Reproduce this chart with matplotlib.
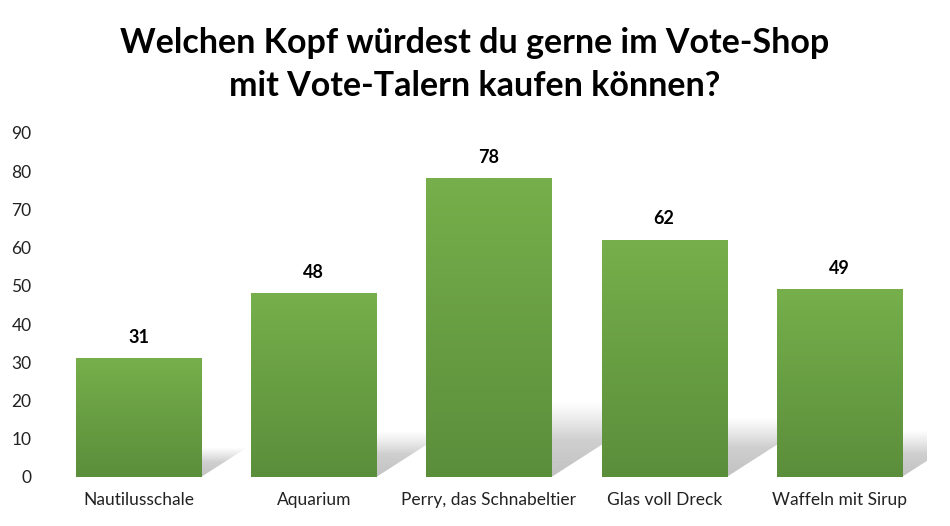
import numpy as np
import matplotlib
matplotlib.use("Agg")
import matplotlib.pyplot as plt
from matplotlib.patches import Polygon
from matplotlib.colors import LinearSegmentedColormap

plt.rcParams['font.family'] = ['Lato', 'DejaVu Sans']

categories = ["Nautilusschale", "Aquarium", "Perry, das Schnabeltier", "Glas voll Dreck", "Waffeln mit Sirup"]
values = [31, 48, 78, 62, 49]
yticks = [0, 10, 20, 30, 40, 50, 60, 70, 80, 90]
title = "Welchen Kopf würdest du gerne im Vote-Shop\nmit Vote-Talern kaufen können?"

fig = plt.figure(figsize=(9.5, 5.26), dpi=100)
ax = fig.add_axes([0.0537, 0.0932, 0.922, 0.654])

x = np.arange(len(categories))
width = 0.714
ax.set_xlim(-0.5, len(categories) - 0.5)
ax.set_ylim(0, 90)

# green vertical gradient (light at top, darker at bottom)
green = LinearSegmentedColormap.from_list("g", ["#5b8e3b", "#76af4b"])
grad = np.linspace(0, 1, 256).reshape(-1, 1)

# soft shadows behind bars, sheared to the right
shade = LinearSegmentedColormap.from_list(
    "s", [(0.76, 0.76, 0.76, 1.0), (0.78, 0.78, 0.78, 0.85), (0.82, 0.82, 0.82, 0.0)])
for xi, v in zip(x, values):
    sh = 0.25 * v
    dx = 0.0085 * v
    x0, x1 = xi - width / 2, xi + width / 2
    poly = Polygon([(x0, 0), (x1, 0), (x1 + dx, sh), (x0 + dx, sh)], closed=True,
                   facecolor="none", edgecolor="none", transform=ax.transData)
    ax.add_patch(poly)
    im = ax.imshow(grad, cmap=shade, aspect="auto", origin="lower",
                   extent=[x0, x1 + dx + 0.05, 0, sh], zorder=1, interpolation="bilinear")
    im.set_clip_path(poly)

for xi, v in zip(x, values):
    ax.imshow(grad, cmap=green, aspect="auto", origin="lower",
              extent=[xi - width / 2, xi + width / 2, 0, v], zorder=2, interpolation="bilinear")
    ax.text(xi, v + 3.3, str(v), ha="center", va="bottom", fontsize=13,
            fontweight="bold", color="black", zorder=3)

ax.set_xlim(-0.5, len(categories) - 0.5)
ax.set_ylim(0, 90)
ax.set_xticks(x)
ax.set_xticklabels(categories, fontsize=12.5, color="#222222")
ax.set_yticks(yticks)
ax.set_yticklabels([str(t) for t in yticks], fontsize=12.5, color="#222222")
ax.tick_params(axis="both", length=0)
ax.tick_params(axis="y", pad=14)
ax.tick_params(axis="x", pad=11)
for s in ax.spines.values():
    s.set_visible(False)

fig.text(0.5, 0.948, title, ha="center", va="top", fontsize=24.5, fontweight="bold",
         color="black", linespacing=1.42)

fig.savefig("out.png", dpi=100)
